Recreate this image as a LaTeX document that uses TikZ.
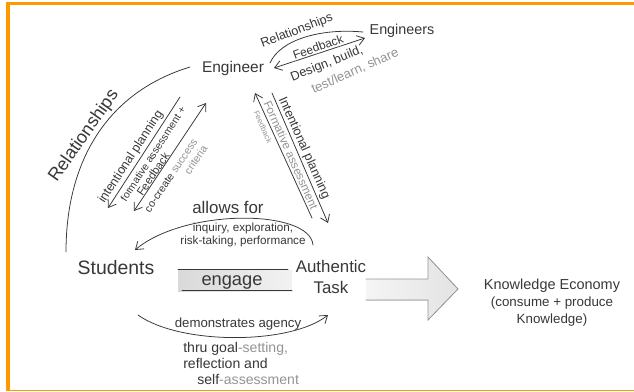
\documentclass[tikz,border=0pt]{standalone}
\usepackage{fontspec}
\setmainfont{Liberation Sans}
\usetikzlibrary{arrows.meta}

\definecolor{frameorange}{RGB}{255,153,0}
\colorlet{pencil}{black!78}
\colorlet{lightpencil}{black!42}

\newcommand{\handfont}[2]{\fontsize{#1}{#2}\selectfont}

\tikzset{
    hand/.style={draw=pencil, line width=0.55pt, line cap=round},
    handarrow/.style={hand, -{Straight Barb[length=5pt, width=7pt]}},
    handboth/.style={hand, {Straight Barb[length=5pt, width=7pt]}-{Straight Barb[length=5pt, width=7pt]}},
    word/.style={inner sep=0pt, text=pencil},
    faint/.style={inner sep=0pt, text=lightpencil}
}

\begin{document}
\begin{tikzpicture}[x=0.025cm, y=-0.025cm]
    \useasboundingbox (0, 0) rectangle (634, 391);
    \fill[white] (0, 0) rectangle (634, 391);
    \draw[frameorange, line width=2.8pt] (6, 3.5) -- (634, 3.5);
    \draw[frameorange, line width=2.8pt] (8, 2) -- (8, 391);
    \draw[frameorange, line width=0.9pt] (8, 390.2) -- (634, 390.2);

    \node[word, font=\handfont{11}{13}] (engineer) at (233, 68) {Engineer};
    \node[word, font=\handfont{10.2}{12}] (engineers) at (402, 31) {Engineers};
    \node[word, font=\handfont{13.8}{16}] (students) at (116, 268) {Students};
    \node[word, align=center, font=\handfont{12}{15.5}] (task) at (331, 277) {Authentic\\Task};
    \node[word, align=center, font=\handfont{10.3}{12}] (economy) at (552, 303) {Knowledge Economy\\{\handfont{9.5}{11}(consume + produce}\\{\handfont{9.5}{11}Knowledge)}};

    \fill[left color=gray!30, right color=gray!10] (178, 270) rectangle (292, 291);
    \draw[hand] (178, 269.5) -- (288, 269.5);
    \draw[hand] (182, 290.8) -- (292, 290.8);
    \node[word, font=\handfont{13}{15}] (engage) at (232, 282) {engage};

    \fill[left color=gray!8, right color=gray!22] (366, 279) -- (428, 279) -- (428, 257) -- (458, 289) -- (428, 320) -- (428, 300) -- (366, 300) -- cycle;
    \draw[hand, draw=lightpencil] (366, 279) -- (428, 279) -- (428, 257) -- (458, 289) -- (428, 320) -- (428, 300) -- (366, 300);

    \coordinate (rel-engineer) at (270, 63);
    \coordinate (rel-engineers) at (363, 32);
    \coordinate (fb-engineer) at (274, 68);
    \coordinate (fb-engineers) at (365, 38);
    \coordinate (rel-top) at (190, 67);
    \coordinate (rel-bottom) at (66, 252);
    \coordinate (plan-top) at (180, 97);
    \coordinate (plan-bottom) at (108, 208);
    \coordinate (crit-top) at (206, 103);
    \coordinate (crit-bottom) at (134, 211);
    \coordinate (form-top) at (255, 93);
    \coordinate (form-bottom) at (312, 218);
    \coordinate (task-plan-top) at (272, 93);
    \coordinate (task-plan-bottom) at (328, 223);
    \coordinate (allows-from) at (313, 245);
    \coordinate (allows-to) at (135, 250);
    \coordinate (agency-from) at (138, 315);
    \coordinate (agency-to) at (328, 315);

    \draw[hand] (rel-engineer) .. controls (280, 40) and (320, 28) .. (rel-engineers);
    \draw[handboth] (fb-engineer) -- (fb-engineers);
    \node[word, rotate=21, font=\handfont{9}{10}] (rel-label) at (297, 31) {Relationships};
    \node[word, rotate=20, font=\handfont{8.5}{10}] (fb-label) at (318, 47) {Feedback};
    \node[word, rotate=22, font=\handfont{9}{10}] (design) at (327, 64) {Design, build,};
    \node[faint, rotate=24, font=\handfont{9.3}{10}] (test) at (355, 71) {test/learn, share};

    \draw[hand] (rel-top) .. controls (108, 92) and (66, 160) .. (rel-bottom);
    \node[word, rotate=55, font=\handfont{12.8}{14}] (rel-big) at (84, 136) {Relationships};

    \draw[handarrow] (plan-top) -- (plan-bottom);
    \draw[handboth] (crit-bottom) -- (crit-top);
    \node[word, rotate=57, font=\handfont{8.9}{10}] (plan-label) at (131, 157) {intentional planning};
    \node[word, rotate=57, font=\handfont{7.4}{9}] (form-label) at (153, 154) {formative assessment +};
    \node[word, rotate=56, font=\handfont{8}{9}] (fbk-label) at (153, 174) {Feedback};
    \node[word, rotate=56, align=right, font=\handfont{7.6}{8.5}] (crit-label) at (176, 179) {co-create \textcolor{lightpencil}{success}\\\textcolor{lightpencil}{criteria}};

    \draw[handarrow] (form-bottom) -- (form-top);
    \draw[handarrow] (task-plan-top) -- (task-plan-bottom);
    \node[word, rotate=-66, font=\handfont{9}{10}] (tplan-label) at (304, 148) {Intentional planning};
    \node[faint, rotate=-66, font=\handfont{8.3}{9}] (tform-label) at (291, 155) {Formative assessment};
    \node[faint, rotate=-66, font=\handfont{5.5}{6}] (tfb-label) at (263, 127) {Feedback};

    \draw[handarrow] (allows-from) .. controls (310, 209) and (185, 208) .. (allows-to);
    \node[word, font=\handfont{12}{14}] (allows) at (228, 207) {allows for};
    \node[word, align=center, font=\handfont{8.3}{7.6}] (inquiry) at (243, 235) {inquiry, exploration,\\risk-taking, performance};

    \draw[handarrow] (agency-from) .. controls (180, 345) and (290, 345) .. (agency-to);
    \node[word, font=\handfont{9.4}{11}] (agency) at (238, 324) {demonstrates agency};
    \node[word, align=left, anchor=north west, font=\handfont{10}{11.3}] (goals) at (183, 342) {thru goal\textcolor{lightpencil}{-setting,}\\reflection and\\\hspace*{10pt}self\textcolor{lightpencil}{-assessment}};
\end{tikzpicture}
\end{document}
